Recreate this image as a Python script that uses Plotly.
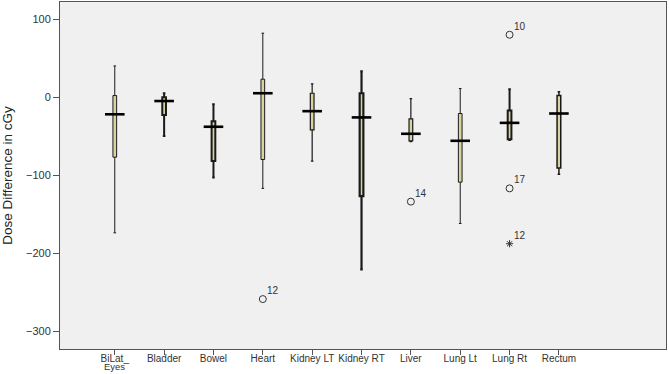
import plotly.graph_objects as go

categories = ["BiLat_", "Bladder", "Bowel", "Heart", "Kidney LT", "Kidney RT",
              "Liver", "Lung Lt", "Lung Rt", "Rectum"]
first_label_line2 = "Eyes"
upper_whisker = [40, 5, -9, 82, 17, 33, -2, 11, 10, 7]
q3 = [2, 0, -31, 23, 5, 5, -28, -21, -17, 2]
median = [-22, -5, -38, 5, -18, -26, -47, -56, -33, -21]
q1 = [-77, -23, -82, -80, -42, -127, -56, -109, -54, -91]
lower_whisker = [-174, -50, -103, -117, -82, -221, -57, -162, -55, -99]
whisker_widths = [1, 2, 2, 1, 1.2, 2.2, 1.2, 1, 2, 1.5]

outlier_cat = [3, 6, 8, 8]
outlier_val = [-259, -134, 80, -117]
outlier_lbl = ["12", "14", "10", "17"]
extreme_cat = [8]
extreme_val = [-188]
extreme_lbl = ["12"]

FONT = "Liberation Sans, Arial"

fig = go.Figure()
xs = list(range(len(categories)))
for i in xs:
    fig.add_trace(go.Box(
        x=[i], q1=[q1[i]], median=[median[i]], q3=[q3[i]],
        lowerfence=[lower_whisker[i]], upperfence=[upper_whisker[i]],
        width=0.075, whiskerwidth=0.7,
        fillcolor="#d8d3a0", line=dict(color="#1a1a1a", width=whisker_widths[i]),
        boxpoints=False, showlegend=False, hoverinfo="skip"))

fig.add_trace(go.Scatter(
    x=xs, y=median, mode="markers",
    marker=dict(symbol="line-ew-open", size=14, color="black",
                line=dict(color="black", width=2.6)),
    showlegend=False, hoverinfo="skip"))

for cats, vals, labels, sym, sz in [(outlier_cat, outlier_val, outlier_lbl, "circle-open", 7),
                                    (extreme_cat, extreme_val, extreme_lbl, "asterisk-open", 6)]:
    fig.add_trace(go.Scatter(
        x=cats, y=vals, mode="markers",
        marker=dict(symbol=sym, size=sz, color="#333", line=dict(width=1, color="#333")),
        showlegend=False, hoverinfo="skip"))
    for c, v, t in zip(cats, vals, labels):
        fig.add_annotation(x=c, y=v, text=t, showarrow=False, xanchor="left", yanchor="bottom",
                           xshift=2, yshift=1, font=dict(family=FONT, size=10, color="#333"))

fig.add_annotation(x=xs[0], y=0, yref="paper", text=first_label_line2, showarrow=False,
                   yanchor="bottom", yshift=-25, font=dict(family=FONT, size=9.5, color="#333"))

fig.update_layout(
    width=669, height=374,
    margin=dict(l=60, r=3, t=2, b=25),
    paper_bgcolor="white", plot_bgcolor="#f0f0f0",
    font=dict(family=FONT, size=11, color="#333"),
)
fig.update_xaxes(
    tickmode="array", tickvals=xs, ticktext=categories, tickangle=0,
    range=[-1.11, 11.17], showgrid=False, zeroline=False,
    ticks="outside", ticklen=5, tickcolor="#555", ticklabelstandoff=-5,
    showline=True, linecolor="#555", linewidth=1, mirror=True,
    automargin=False,
    tickfont=dict(size=10, color="#333"))
fig.update_yaxes(
    range=[-323, 122], tickvals=[-300, -200, -100, 0, 100],
    showgrid=False, zeroline=False,
    ticks="outside", ticklen=6, tickcolor="#555",
    showline=True, linecolor="#555", linewidth=1, mirror=True,
    automargin=False,
    tickfont=dict(size=11, color="#333"),
    title=dict(text="Dose Difference in cGy", font=dict(size=13.5, color="#222"), standoff=11))

fig.write_html("out.html", config={"displayModeBar": False},
               post_script="document.body.style.margin='0';document.body.style.overflow='hidden';")
